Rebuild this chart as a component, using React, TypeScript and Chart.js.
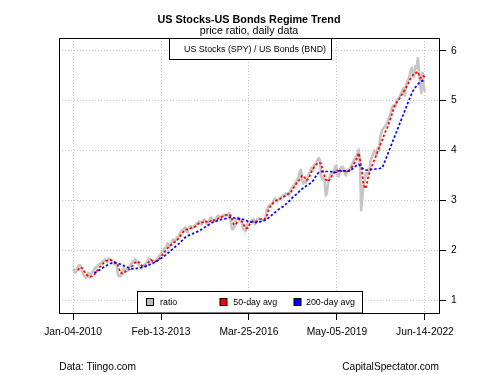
import React, { useEffect, useRef } from "react";
import { Chart, registerables } from "chart.js";
Chart.register(...registerables);

// ---- data ----
const titleText = "US Stocks-US Bonds Regime Trend";
const subtitleText = "price ratio, daily data";
const seriesLabel = "US Stocks (SPY) / US Bonds (BND)";
const legendLabels = ["ratio", "50-day avg", "200-day avg"];
const legendColors = ["#bebebe", "#ff0000", "#0000ff"];
const sourceLeft = "Data: Tiingo.com";
const sourceRight = "CapitalSpectator.com";
const xTickLabels = ["Jan-04-2010", "Feb-13-2013", "Mar-25-2016", "May-05-2019", "Jun-14-2022"];
const yTicks = [1, 2, 3, 4, 5, 6];
const lastMonth = 149; // months from Jan 2010

// price ratio, two readings per month (Jan 2010 .. Jun 2022)
const ratio = [
  1.58, 1.62, 1.55, 1.60, 1.66, 1.70, 1.70, 1.66, 1.56, 1.50, 1.48, 1.45, 1.52, 1.55, 1.46, 1.50, 1.56, 1.58, 1.62, 1.66, 1.66, 1.70, 1.72, 1.74,
  1.74, 1.78, 1.78, 1.82, 1.80, 1.76, 1.84, 1.82, 1.80, 1.78, 1.76, 1.72, 1.74, 1.70, 1.52, 1.48, 1.48, 1.55, 1.60, 1.64, 1.57, 1.62, 1.60, 1.64,
  1.68, 1.72, 1.75, 1.78, 1.80, 1.82, 1.78, 1.74, 1.70, 1.66, 1.64, 1.68, 1.70, 1.72, 1.74, 1.78, 1.84, 1.82, 1.80, 1.76, 1.74, 1.78, 1.80, 1.82,
  1.85, 1.90, 1.90, 1.94, 1.98, 2.02, 2.04, 2.06, 2.14, 2.10, 2.08, 2.12, 2.20, 2.22, 2.16, 2.20, 2.26, 2.24, 2.32, 2.36, 2.40, 2.38, 2.44, 2.46,
  2.38, 2.36, 2.45, 2.48, 2.48, 2.44, 2.46, 2.50, 2.52, 2.55, 2.56, 2.58, 2.54, 2.52, 2.60, 2.62, 2.58, 2.55, 2.50, 2.58, 2.64, 2.66, 2.62, 2.60,
  2.58, 2.64, 2.68, 2.70, 2.65, 2.68, 2.68, 2.70, 2.72, 2.70, 2.70, 2.72, 2.75, 2.72, 2.48, 2.42, 2.44, 2.50, 2.62, 2.64, 2.66, 2.64, 2.58, 2.55,
  2.44, 2.42, 2.38, 2.46, 2.55, 2.56, 2.58, 2.60, 2.60, 2.62, 2.52, 2.58, 2.62, 2.64, 2.64, 2.62, 2.62, 2.60, 2.62, 2.64, 2.82, 2.86, 2.90, 2.92,
  2.92, 2.95, 3.00, 3.04, 3.00, 2.98, 3.02, 3.04, 3.06, 3.08, 3.10, 3.08, 3.14, 3.12, 3.14, 3.10, 3.20, 3.24, 3.28, 3.30, 3.34, 3.38, 3.42, 3.46,
  3.58, 3.62, 3.40, 3.34, 3.38, 3.36, 3.44, 3.48, 3.55, 3.60, 3.66, 3.62, 3.70, 3.72, 3.76, 3.80, 3.85, 3.82, 3.50, 3.42, 3.45, 3.40, 3.10, 3.15,
  3.35, 3.45, 3.50, 3.55, 3.55, 3.60, 3.68, 3.70, 3.50, 3.48, 3.62, 3.66, 3.68, 3.64, 3.55, 3.50, 3.60, 3.62, 3.62, 3.66, 3.72, 3.75, 3.82, 3.86,
  3.88, 3.96, 4.02, 3.70, 2.80, 3.05, 3.30, 3.40, 3.55, 3.52, 3.62, 3.60, 3.80, 3.86, 3.92, 4.00, 3.95, 3.90, 4.05, 4.00, 4.25, 4.35, 4.42, 4.45,
  4.48, 4.52, 4.55, 4.62, 4.68, 4.75, 4.85, 4.90, 4.90, 4.88, 5.00, 5.04, 5.05, 5.10, 5.15, 5.20, 5.25, 5.10, 5.30, 5.38, 5.42, 5.50, 5.62, 5.66,
  5.55, 5.48, 5.70, 5.65, 5.85, 5.60, 5.30, 5.15, 5.56, 5.30, 5.18,
];

// 50-day average, monthly from Mar 2010
const avg50Start = 2;
const avg50 = [
  1.60, 1.66, 1.64, 1.56, 1.50, 1.47, 1.48, 1.52, 1.58, 1.65,
  1.70, 1.75, 1.79, 1.80, 1.81, 1.79, 1.76, 1.70, 1.56, 1.53, 1.57, 1.60,
  1.62, 1.68, 1.74, 1.78, 1.76, 1.70, 1.67, 1.70, 1.76, 1.81, 1.78, 1.78,
  1.80, 1.86, 1.92, 1.98, 2.04, 2.10, 2.12, 2.17, 2.20, 2.26, 2.33, 2.39,
  2.42, 2.42, 2.45, 2.47, 2.48, 2.53, 2.56, 2.56, 2.59, 2.56, 2.58, 2.62,
  2.60, 2.62, 2.66, 2.67, 2.69, 2.71, 2.72, 2.68, 2.52, 2.52, 2.62, 2.62,
  2.54, 2.44, 2.45, 2.54, 2.58, 2.58, 2.58, 2.62, 2.63, 2.62, 2.68, 2.84,
  2.91, 2.96, 3.00, 3.01, 3.04, 3.07, 3.10, 3.13, 3.15, 3.22, 3.30, 3.37,
  3.42, 3.50, 3.46, 3.40, 3.46, 3.58, 3.66, 3.72, 3.76, 3.74, 3.56, 3.42,
  3.38, 3.44, 3.52, 3.60, 3.60, 3.57, 3.60, 3.60, 3.57, 3.60, 3.66, 3.74,
  3.82, 3.95, 3.70, 3.30, 3.24, 3.48, 3.62, 3.74, 3.86, 3.98, 4.10, 4.22,
  4.35, 4.45, 4.58, 4.72, 4.88, 4.96, 5.02, 5.10, 5.18, 5.26, 5.35, 5.45,
  5.52, 5.55, 5.58, 5.45, 5.50, 5.48,
];

// 200-day average, monthly from Oct 2010
const avg200Start = 9;
const avg200 = [
  1.55, 1.57, 1.60,
  1.63, 1.66, 1.69, 1.72, 1.74, 1.75, 1.75, 1.74, 1.72, 1.70, 1.68, 1.66,
  1.64, 1.63, 1.63, 1.64, 1.64, 1.66, 1.67, 1.68, 1.70, 1.73, 1.75, 1.77,
  1.80, 1.83, 1.86, 1.90, 1.94, 1.98, 2.02, 2.06, 2.10, 2.14, 2.19, 2.24,
  2.28, 2.30, 2.32, 2.34, 2.36, 2.38, 2.41, 2.44, 2.47, 2.50, 2.53, 2.56,
  2.58, 2.59, 2.61, 2.62, 2.63, 2.64, 2.66, 2.66, 2.65, 2.64, 2.64, 2.63,
  2.62, 2.61, 2.58, 2.57, 2.56, 2.56, 2.56, 2.57, 2.58, 2.60, 2.62, 2.66,
  2.70, 2.74, 2.78, 2.82, 2.85, 2.88, 2.92, 2.96, 3.01, 3.06, 3.10, 3.14,
  3.19, 3.23, 3.27, 3.30, 3.33, 3.36, 3.42, 3.50, 3.56, 3.58, 3.58, 3.58,
  3.58, 3.58, 3.57, 3.56, 3.58, 3.60, 3.60, 3.59, 3.58, 3.59, 3.62, 3.66,
  3.70, 3.72, 3.68, 3.62, 3.61, 3.61, 3.62, 3.62, 3.63, 3.64, 3.64, 3.66,
  3.78, 3.90, 4.02, 4.14, 4.26, 4.38, 4.50, 4.62, 4.74, 4.86, 4.98, 5.10,
  5.20, 5.27, 5.33, 5.37, 5.40, 5.43,
];

const FONT = "'Liberation Sans', Arial, Helvetica, sans-serif";

const overlayPlugin = {
  id: "overlay",
  afterDatasetsDraw(chart: any) {
    const ctx = chart.ctx;
    const a = chart.chartArea;
    const cx = (a.left + a.right) / 2;
    ctx.save();
    // titles
    ctx.fillStyle = "#000";
    ctx.textAlign = "center";
    ctx.textBaseline = "middle";
    ctx.font = `bold 10.8px ${FONT}`;
    ctx.fillText(titleText, cx, 20);
    ctx.font = `10.7px ${FONT}`;
    ctx.fillText(subtitleText, cx, 31);

    // top legend
    ctx.lineWidth = 1;
    ctx.strokeStyle = "#000";
    ctx.fillStyle = "#fff";
    ctx.fillRect(169.5, a.top, 162, 21);
    ctx.strokeRect(169.5, a.top + 0.5, 162, 21);
    ctx.fillStyle = "#000";
    ctx.textAlign = "left";
    ctx.font = `8.9px ${FONT}`;
    ctx.fillText(seriesLabel, 184, 50);

    // bottom legend
    const top = 291.5;
    ctx.fillStyle = "#fff";
    ctx.fillRect(137.5, top, 225, a.bottom - top);
    ctx.strokeRect(137.5, top, 225, a.bottom - top);
    const symX = [146, 219.5, 293.5];
    const txtX = [160, 233.3, 306];
    for (let i = 0; i < 3; i++) {
      ctx.fillStyle = legendColors[i];
      ctx.fillRect(symX[i] + 0.5, 298.5, 7, 7);
      ctx.strokeRect(symX[i] + 0.5, 298.5, 7, 7);
      ctx.fillStyle = "#000";
      ctx.fillText(legendLabels[i], txtX[i], 302.5);
    }

    // plot box
    ctx.strokeStyle = "#000";
    ctx.strokeRect(a.left + 0.5, a.top + 0.5, a.right - a.left, a.bottom - a.top);

    // footer
    ctx.font = `10.2px ${FONT}`;
    ctx.textAlign = "left";
    ctx.fillText(sourceLeft, 59.3, 367.3);
    ctx.textAlign = "right";
    ctx.fillText(sourceRight, 439, 367.3);
    ctx.restore();
  },
};

export default function App() {
  const ref = useRef<HTMLCanvasElement | null>(null);
  useEffect(() => {
    if (!ref.current) return;
    const ratioPts = ratio.map((v, i) => ({ x: i / 2, y: v }));
    const a50Pts = avg50.map((v, i) => ({ x: avg50Start + i, y: v }));
    const a200Pts = avg200.map((v, i) => ({ x: avg200Start + i, y: v }));
    const chart = new Chart(ref.current, {
      type: "line",
      data: {
        datasets: [
          { label: legendLabels[2], data: a200Pts, borderColor: "#0000ff", borderWidth: 1.7, borderDash: [2.5, 2], pointRadius: 0, tension: 0, fill: false },
          { label: legendLabels[1], data: a50Pts, borderColor: "#ff0000", borderWidth: 1.7, borderDash: [2.5, 2], pointRadius: 0, tension: 0, fill: false },
          { label: legendLabels[0], data: ratioPts, borderColor: "#c6c6c6", borderWidth: 2.6, pointRadius: 0, tension: 0, fill: false, borderJoinStyle: "round" },
        ],
      },
      options: {
        responsive: false,
        animation: false,
        devicePixelRatio: 1,
        events: [],
        layout: { padding: { left: 59, top: 38, right: 0, bottom: 0 } },
        plugins: { legend: { display: false }, tooltip: { enabled: false }, title: { display: false } },
        scales: {
          x: {
            type: "linear",
            position: "bottom",
            min: -lastMonth * 0.04,
            max: lastMonth * 1.04,
            afterBuildTicks: (s: any) => {
              s.ticks = xTickLabels.map((_, i) => ({ value: (lastMonth * i) / 4 }));
            },
            afterFit: (s: any) => {
              s.height = 62;
            },
            ticks: {
              autoSkip: false,
              maxRotation: 0,
              minRotation: 0,
              padding: 6,
              color: "#000",
              font: { family: FONT, size: 10.3 },
              callback: (_v: any, i: number) => xTickLabels[i],
            },
            grid: { color: "#c4c4c4", lineWidth: 1, drawTicks: true, tickLength: 7, tickColor: "#000", tickWidth: 1, tickBorderDash: [] },
            border: { display: false, dash: [1, 2] },
          },
          y: {
            type: "linear",
            position: "right",
            min: 1 - 5 * 0.051,
            max: 6 + 5 * 0.051,
            afterBuildTicks: (s: any) => {
              s.ticks = yTicks.map((v) => ({ value: v }));
            },
            afterFit: (s: any) => {
              s.width = 61;
            },
            ticks: {
              padding: 5,
              color: "#000",
              font: { family: FONT, size: 10.3 },
              callback: (v: any) => String(v),
            },
            grid: { color: "#c4c4c4", lineWidth: 1, drawTicks: true, tickLength: 7, tickColor: "#000", tickWidth: 1, tickBorderDash: [] },
            border: { display: false, dash: [1, 2] },
          },
        },
      },
      plugins: [overlayPlugin],
    } as any);
    return () => chart.destroy();
  }, []);
  return (
    <div style={{ position: "absolute", left: 0, top: 0, width: 500, height: 375, background: "#fff" }}>
      <canvas ref={ref} width={500} height={375} style={{ display: "block", width: 500, height: 375 }} />
    </div>
  );
}
